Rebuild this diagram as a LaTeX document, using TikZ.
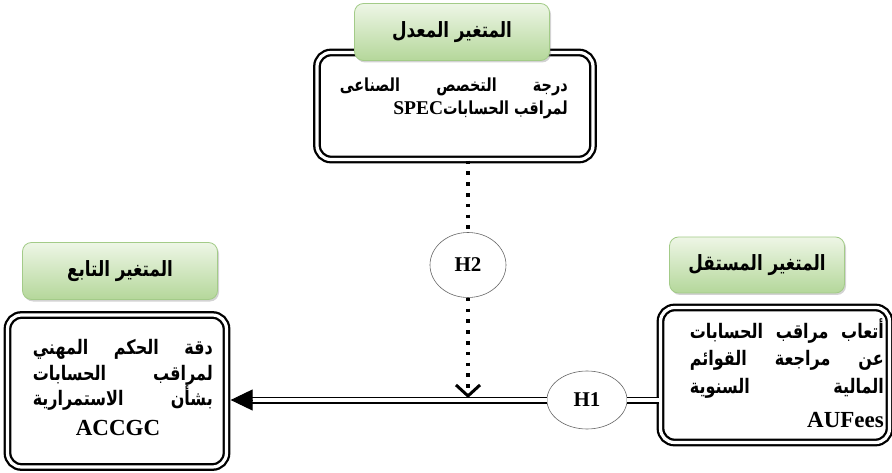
\documentclass[tikz,border=0pt]{standalone}
\usepackage{fontspec}
\setmainfont{Liberation Serif}
\newfontfamily\arabicfont[Script=Arabic,FakeStretch=0.8]{DejaVu Sans}
\newfontfamily\latinfont{Liberation Serif}
\TeXXeTstate=1
\usetikzlibrary{arrows.meta,shapes.geometric,shadows}
\definecolor{tagtop}{HTML}{EEF6E6}
\definecolor{tagbot}{HTML}{B4D79A}
\definecolor{tagline}{HTML}{A3CB88}
\begin{document}
\begin{tikzpicture}[x=1pt,y=-1pt,
  mainbox/.style={draw, double, line width=2.3pt, double distance=3.2pt, rounded corners=14pt, fill=white, inner sep=0pt},
  tagbox/.style={draw=tagline, line width=0.8pt, rounded corners=9pt, top color=tagtop, bottom color=tagbot,
     drop shadow={shadow xshift=1.5pt, shadow yshift=-2pt, opacity=0.35}, inner sep=0pt,
     font=\arabicfont\bfseries\fontsize{21}{24}\selectfont},
  hyp/.style={draw=black!60, line width=0.6pt, ellipse, fill=white, inner sep=0pt, font=\latinfont\bfseries\fontsize{21}{24}\selectfont},
  arline/.style={inner sep=0pt, anchor=base east, font=\arabicfont\bfseries\fontsize{20}{24}\selectfont},
  arlinesm/.style={inner sep=0pt, anchor=base east, font=\arabicfont\bfseries\fontsize{18}{22}\selectfont},
  latline/.style={inner sep=0pt, anchor=base, font=\latinfont\bfseries\fontsize{23}{26}\selectfont},
  dline/.style={draw, double, line width=1.8pt, double distance=3.4pt},
  dotline/.style={draw, line width=3.6pt, dash pattern=on 3.6pt off 7.2pt}
]
\useasboundingbox (0,0) rectangle (892,473);

% top (moderator)
\node[mainbox, minimum width=276pt, minimum height=107pt] (T) at (455,106) {};
\node[tagbox, minimum width=195pt, minimum height=57pt] (TT) at (452,32) {\beginR المتغير المعدل\endR};
\node[arlinesm] (Tl1) at (568,92) {\hbox to 228pt{\beginR درجة التخصص الصناعى\endR}};
\node[arlinesm] (Tl2) at (568,115) {\beginR لمراقب الحسابات\beginL{\latinfont\bfseries\fontsize{19.5}{22}\selectfont SPEC}\endL\endR};

% left (dependent)
\node[mainbox, minimum width=219pt, minimum height=152pt] (L) at (117,391) {};
\node[tagbox, minimum width=195pt, minimum height=57pt] (LT) at (120,271) {\beginR المتغير التابع\endR};
\node[arline] (Ll1) at (213,354) {\hbox to 180pt{\beginR دقة الحكم المهني\endR}};
\node[arline] (Ll2) at (213,380) {\hbox to 180pt{\beginR لمراقب الحسابات\endR}};
\node[arline] (Ll3) at (213,405) {\hbox to 180pt{\beginR بشأن الاستمرارية\endR}};
\node[latline] (Lacc) at (118,435) {ACCGC};

% right (independent)
\node[mainbox, minimum width=229pt, minimum height=135pt] (R) at (775,375) {};
\node[tagbox, minimum width=175pt, minimum height=56pt] (RT) at (757,265) {\beginR المتغير المستقل\endR};
\node[arline] (Rl1) at (884,338) {\hbox to 194pt{\beginR أتعاب مراقب الحسابات\endR}};
\node[arline] (Rl2) at (884,365) {\hbox to 194pt{\beginR عن مراجعة القوائم\endR}};
\node[arline] (Rl3) at (884,393) {\hbox to 194pt{\beginR المالية السنوية\endR}};
\node[latline, anchor=base east] (Rau) at (884,427) {AUFees};

% hypotheses
\node[hyp, minimum width=76pt, minimum height=65pt] (H2) at (468,265) {H2};
\node[hyp, minimum width=80pt, minimum height=58pt] (H1) at (587,400) {H1};

% connectors
\coordinate (a1) at (252,400);
\draw[dline] (R.west |- H1) -- (H1.east);
\draw[dline] (H1.west) -- (a1);
\draw[-{Triangle[length=22pt,width=21pt]}, line width=1pt] (a1) -- ([xshift=3pt]a1 -| L.east);

\draw[dotline] (T.south -| H2.north) -- (H2.north);
\draw[dotline, -{Straight Barb[length=11pt,width=24pt,line width=3pt]}] (H2.south) -- ([yshift=2pt]H2.south |- H1);
\end{tikzpicture}
\end{document}
